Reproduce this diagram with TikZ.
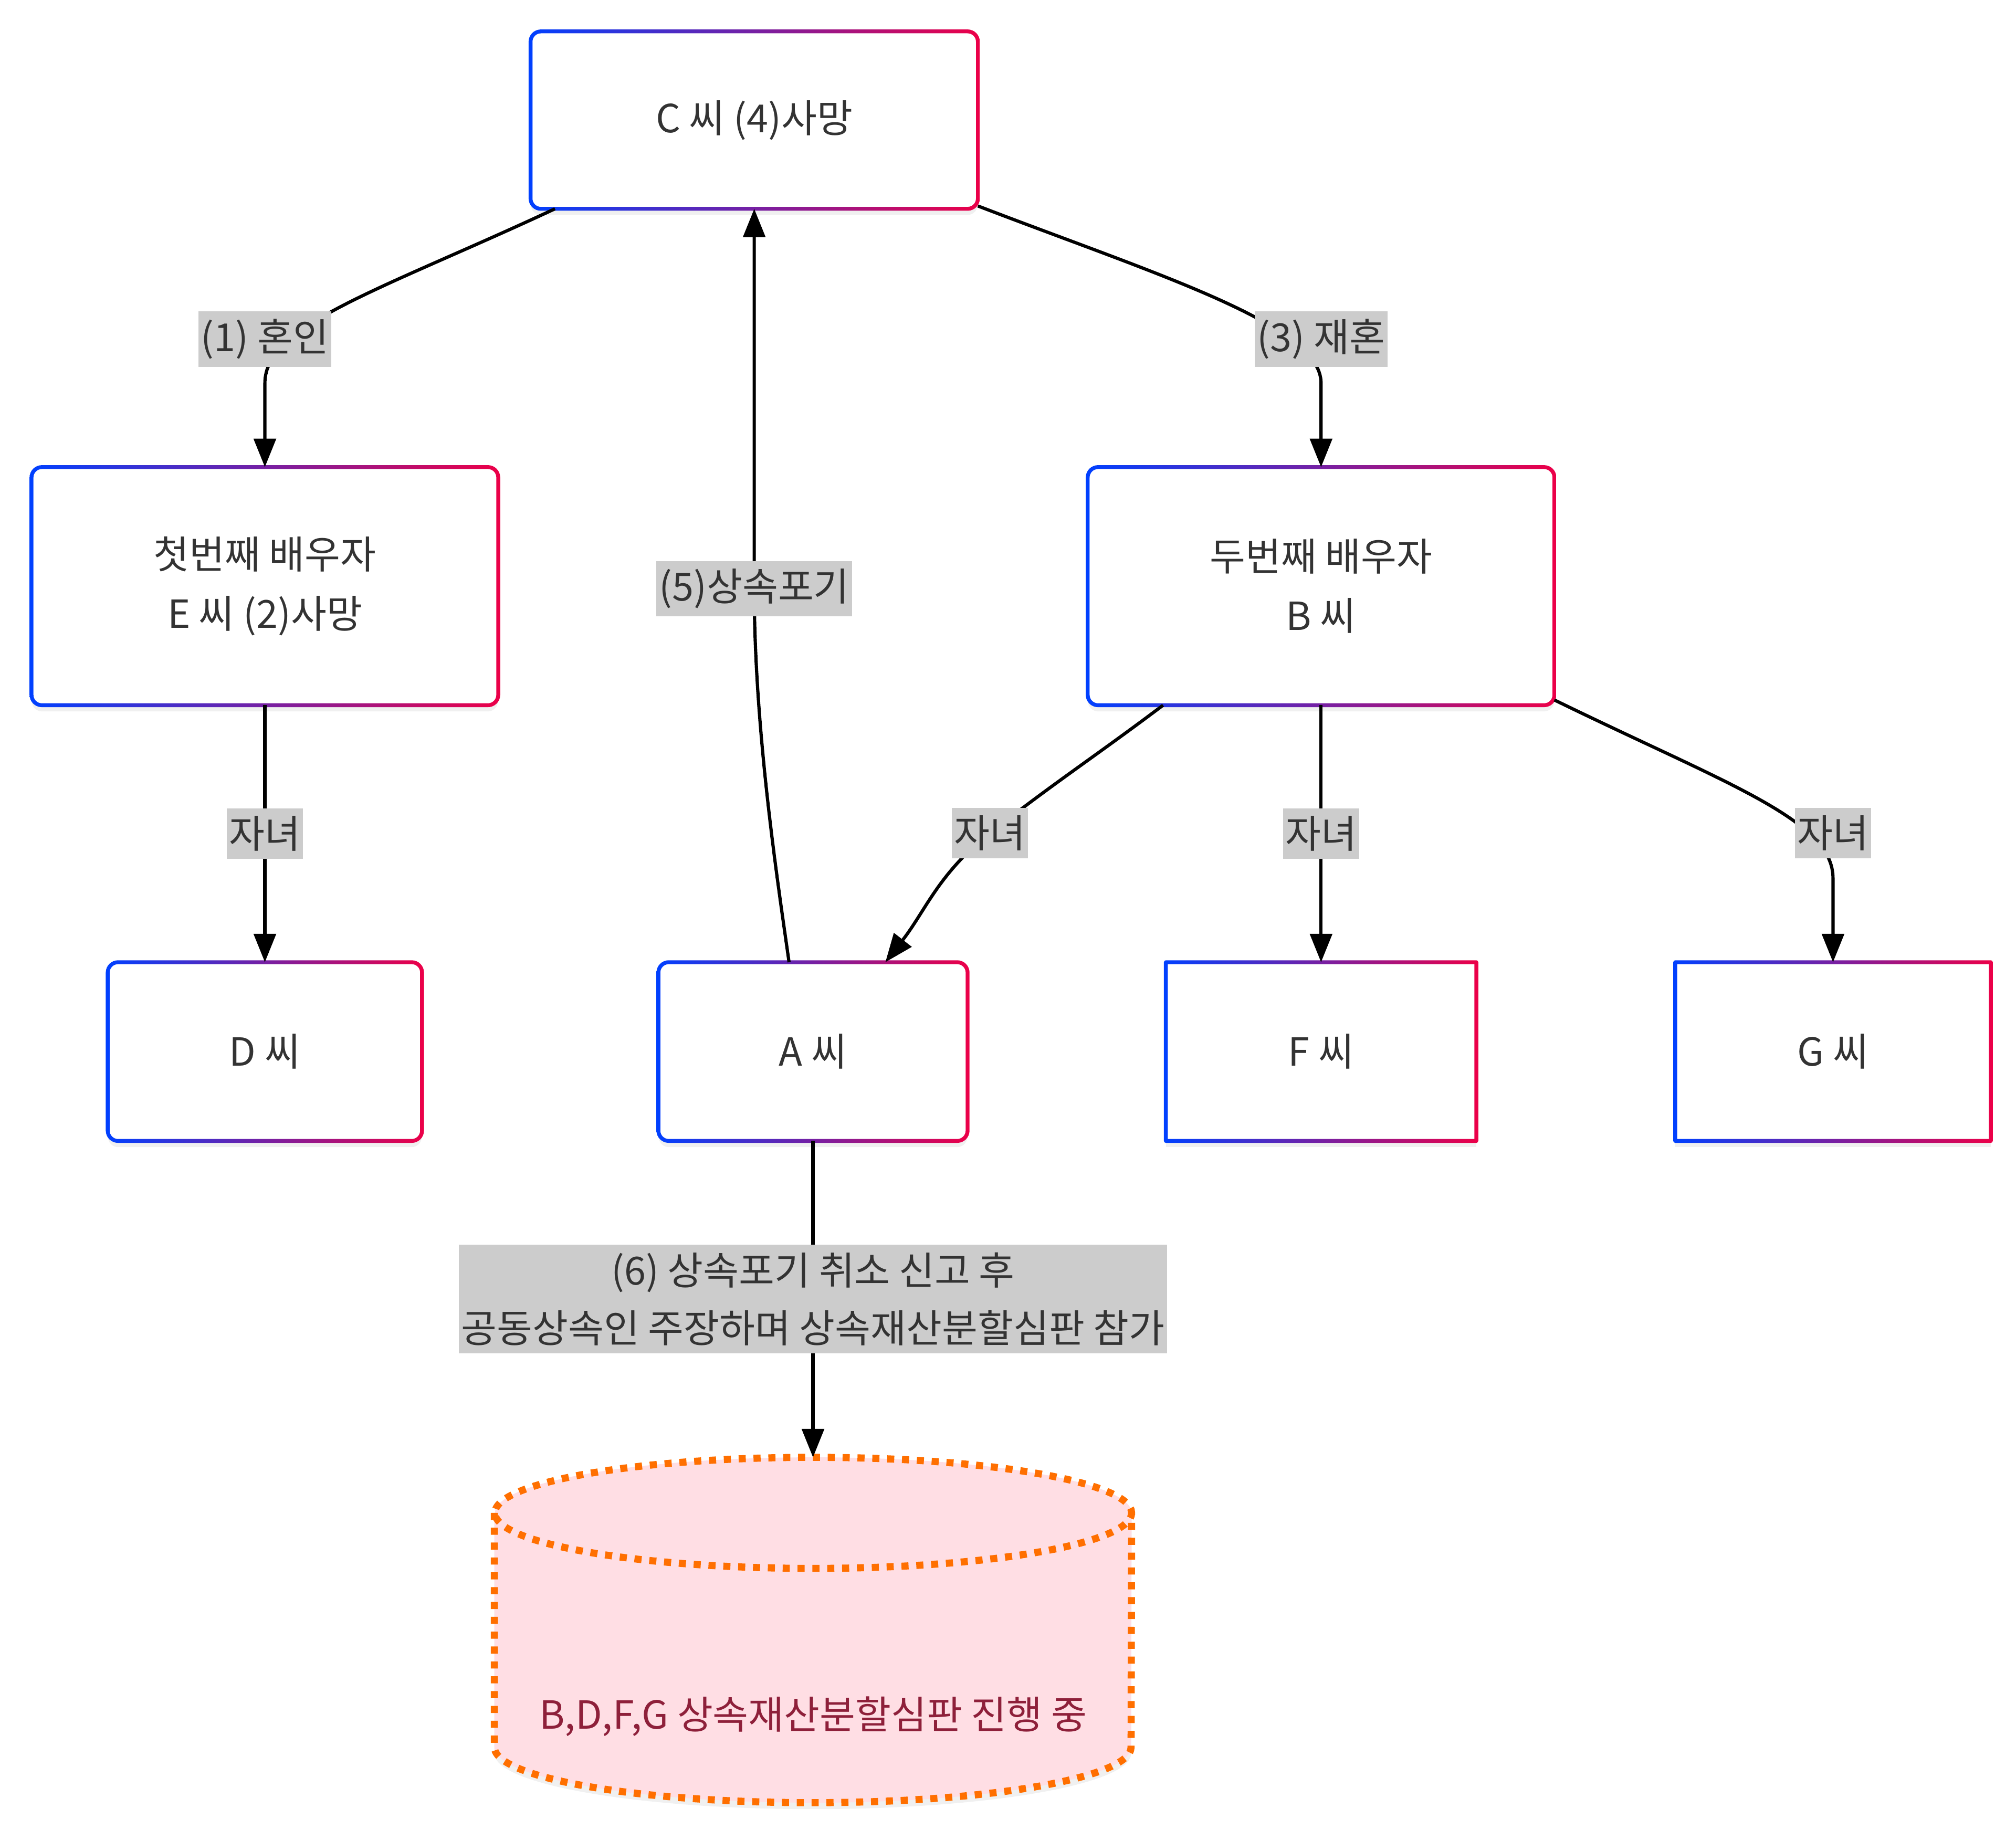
\documentclass[tikz,border=0pt]{standalone}
\usepackage{fontspec}
\setmainfont{Noto Sans CJK KR}
\usetikzlibrary{positioning}
\usetikzlibrary{arrows.meta}
\usetikzlibrary{calc}
\usetikzlibrary{shadows}

\definecolor{edgeblue}{RGB}{0,64,255}
\definecolor{edgered}{RGB}{236,0,72}
\definecolor{txtgray}{RGB}{51,51,51}
\definecolor{lblgray}{RGB}{204,204,204}
\definecolor{dbfill}{RGB}{255,222,228}
\definecolor{dborange}{RGB}{255,111,0}
\definecolor{dbtext}{RGB}{142,32,58}

\tikzset{
  person/.style={rectangle, fill=white, text=txtgray, align=center, inner sep=0pt,
    font=\fontsize{30}{46}\selectfont, minimum height=137pt,
    drop shadow={shadow xshift=0pt, shadow yshift=-5pt, opacity=0.12}},
  rel/.style={fill=lblgray, text=txtgray, inner xsep=2pt, inner ysep=6pt,
    align=center, font=\fontsize{30}{45}\selectfont},
  link/.style={line width=2.5pt, -{Triangle[length=22pt,width=17pt]}},
  dbline/.style={draw=dborange, line width=5.5pt, dash pattern=on 5.5pt off 6pt},
}

% gradient border round a node: #1 node, #2 corner radius (pt)
\newcommand{\gradframe}[2]{%
  \shade[left color=edgeblue, right color=edgered, even odd rule]
    ([shift={(-1.5pt,-1.5pt)}]#1.south west) [rounded corners={(#2+1.5)*1pt}]
      rectangle ([shift={(1.5pt,1.5pt)}]#1.north east)
    ([shift={(1.5pt,1.5pt)}]#1.south west) [rounded corners={max(#2-1.5,0.01)*1pt}]
      rectangle ([shift={(-1.5pt,-1.5pt)}]#1.north east);}

\begin{document}
\begin{tikzpicture}

    \useasboundingbox (0,0) rectangle (1561pt,-1417pt);

    \node(C)[person, rounded corners=8pt, minimum width=346pt] at (584pt,-93pt) {C 씨 (4)사망};
    \node(E)[person, rounded corners=8pt, minimum width=361pt, minimum height=184pt, below left=200pt and 25pt of C]{첫번째 배우자\\E 씨 (2)사망};
    \node(B)[person, rounded corners=8pt, minimum width=361pt, minimum height=184pt, below right=200pt and 85pt of C]{두번째 배우자\\B 씨};
    \node(D)[person, rounded corners=8pt, minimum width=243pt, minimum height=138pt, below=199pt of E]{D 씨};
    \node(A)[person, rounded corners=8pt, minimum width=239pt, minimum height=138pt, right=183pt of D]{A 씨};
    \node(F)[person, minimum width=240pt, minimum height=138pt, below=199pt of B]{F 씨};
    \node(G)[person, minimum width=244pt, minimum height=138pt, right=154pt of F]{G 씨};

    \gradframe{C}{8}
    \gradframe{E}{8}
    \gradframe{B}{8}
    \gradframe{D}{8}
    \gradframe{A}{8}
    \gradframe{F}{0}
    \gradframe{G}{0}

    % cylinder
    \node(db)[minimum width=493pt, minimum height=267pt, inner sep=0pt, below=245pt of A]{};
    \fill[dbfill, drop shadow={shadow xshift=0pt, shadow yshift=-5pt, opacity=0.12}] ($(db.north west)+(0,-43pt)$) -- ($(db.south west)+(0,43pt)$)
        arc[start angle=180, end angle=360, x radius=246.5pt, y radius=43pt]
        -- ($(db.north east)+(0,-43pt)$)
        arc[start angle=0, end angle=180, x radius=246.5pt, y radius=43pt] -- cycle;
    \draw[dbline] ($(db.north west)+(0,-43pt)$) -- ($(db.south west)+(0,43pt)$)
        arc[start angle=180, end angle=360, x radius=246.5pt, y radius=43pt]
        -- ($(db.north east)+(0,-43pt)$)
        arc[start angle=0, end angle=360, x radius=246.5pt, y radius=43pt];
    \node(dbnote)[text=dbtext, font=\fontsize{30}{36}\selectfont] at ($(db.center)+(0,-67pt)$) {B,D,F,G 상속재산분할심판 진행 중};

    \draw[link] (C.204) to[out=205, in=90, out distance=150pt, in distance=45pt] ($(E.north)+(0,65pt)$) -- (E.north)
        node[rel] at ($(E.north)+(0,99pt)$) {(1) 혼인};
    \draw[link] (C.-21) to[out=-21, in=90, out distance=150pt, in distance=45pt] ($(B.north)+(0,65pt)$) -- (B.north)
        node[rel] at ($(B.north)+(0,99pt)$) {(3) 재혼};
    \draw[link] (E) -- node[rel]{자녀} (D);
    \draw[link] (B.217) to[out=217, in=38] ($(A.north)+(137pt,100pt)$) node[rel]{자녀} to[out=218, in=52] (A.51);
    \draw[link] (B) -- node[rel]{자녀} (F);
    \draw[link] (B.-26) to[out=-26, in=90, out distance=150pt, in distance=45pt] ($(G.north)+(0,65pt)$) -- (G.north)
        node[rel] at ($(G.north)+(0,100pt)$) {자녀};
    \draw[link] (A.105) to[out=98, in=-90, out distance=60pt, in distance=110pt] ($(C.south)+(0,-294pt)$) node[rel]{(5)상속포기} -- (C.south);
    \draw[link] (A) -- node[rel]{(6) 상속포기 취소 신고 후\\공동상속인 주장하며 상속재산분할심판 참가} (db);

\end{tikzpicture}
\end{document}
